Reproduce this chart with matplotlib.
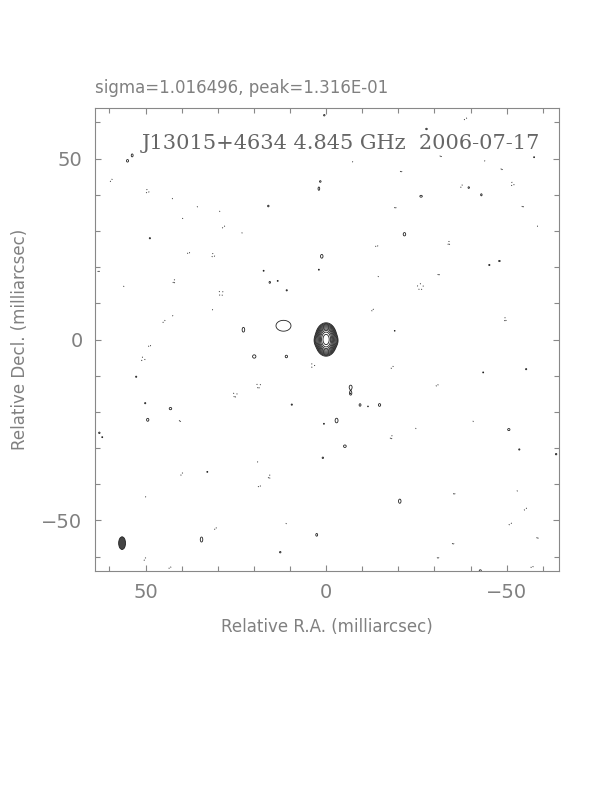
import numpy as np
import matplotlib

matplotlib.use("Agg")
import matplotlib.pyplot as plt
from matplotlib.patches import Ellipse
from matplotlib.ticker import MultipleLocator

plt.rcParams["font.family"] = "DejaVu Sans"

# map statistics (mJy)
SIGMA = 1.016496
PEAK = 131.6
TITLE = "J13015+4634 4.845 GHz  2006-07-17"
STATS = "sigma=1.016496, peak=1.316E-01"

# core: two overlapping components along Dec plus side bumps (mas, mJy)
core_ra = [0.0, 0.0, 2.7, -2.7]
core_dec = [0.9, -0.9, -0.3, -0.3]
core_flux = [80.0, 80.0, 3.5, 3.5]
core_sx = [1.1, 1.1, 0.5, 0.5]
core_sy = [1.45, 1.45, 0.9, 0.9]

# weak positive features: RA, Dec, size in RA, size in Dec (mas)
pos_ra = [55.0, 53.7, 0.5, 1.6, 2.0, 16.0, 48.8, 1.2, 2.0, 17.3, 15.6, 13.4, 10.9, 11.8, 22.9,
          -27.8, -39.5, -43.0, -26.3, -21.7, -57.6, -45.2, -48.0, -19.0,
          19.9, 11.0, 52.6, 50.1, 43.1, 49.4, 9.5, 62.8, 62.0, 0.6, 0.9, 32.9, 34.5, 2.6, 12.7,
          -6.8, -6.8, -9.4, -11.6, -14.8, -2.9, -5.2, -20.4, -43.5, -55.4, -50.6, -53.5, -63.7, -42.7]
pos_dec = [49.4, 50.9, 62.0, 43.7, 41.7, 36.9, 28.0, 23.0, 19.3, 19.0, 15.8, 16.2, 13.6, 3.8, 2.7,
           58.2, 42.0, 40.0, 39.6, 29.1, 50.4, 20.6, 21.7, 2.4,
           -4.7, -4.7, -10.3, -17.6, -19.1, -22.2, -18.0, -25.8, -27.0, -23.3, -32.7, -36.6, -55.3, -54.0, -58.8,
           -13.2, -15.0, -18.1, -18.5, -18.1, -22.4, -29.5, -44.7, -9.1, -8.2, -24.9, -30.4, -31.7, -63.9]
pos_sx = [0.5, 0.45, 0.35, 0.35, 0.4, 0.35, 0.3, 0.6, 0.25, 0.25, 0.35, 0.25, 0.3, 3.6, 0.6,
          0.4, 0.35, 0.35, 0.6, 0.6, 0.25, 0.3, 0.4, 0.2,
          0.8, 0.55, 0.3, 0.3, 0.6, 0.55, 0.3, 0.35, 0.25, 0.25, 0.35, 0.25, 0.6, 0.45, 0.35,
          0.7, 0.35, 0.45, 0.2, 0.55, 0.7, 0.65, 0.6, 0.25, 0.3, 0.55, 0.3, 0.35, 0.5]
pos_sy = [0.6, 0.7, 0.35, 0.35, 0.8, 0.4, 0.3, 0.9, 0.25, 0.25, 0.45, 0.25, 0.3, 2.6, 1.1,
          0.35, 0.4, 0.5, 0.45, 0.8, 0.25, 0.3, 0.3, 0.2,
          0.8, 0.6, 0.3, 0.3, 0.55, 0.7, 0.3, 0.35, 0.25, 0.25, 0.35, 0.25, 1.2, 0.65, 0.35,
          1.0, 0.5, 0.6, 0.2, 0.65, 1.1, 0.6, 1.0, 0.25, 0.3, 0.5, 0.3, 0.35, 0.4]

# negative features: RA, Dec, size (mas)
neg_ra = [59.5, 49.5, 42.4, 35.5, 39.6, 29.3, 28.4, 23.1, 38.1, 31.3, 63.0, 55.9, 42.1, 29.1, 31.3, 42.3, 44.9,
          -38.6, -31.8, -7.5, -20.8, -44.1, -48.7, -51.6, -37.5, -54.5, -19.2, -58.7, -14.0, -34.0, -14.6,
          -31.2, -26.1, -12.8, -49.6,
          48.9, 50.7, 3.7, 18.7, 25.2, 40.4, 40.0, 18.8, 15.7, 18.5, 49.8, 30.7, 10.9, 50.2, 43.3,
          -18.3, -30.7, -40.9, -25.0, -18.1, -35.5, -53.1, -55.2, -51.0, -58.6, -35.2, -31.0, -57.0]
neg_dec = [44.0, 41.0, 39.0, 36.8, 33.6, 35.5, 31.1, 29.5, 24.0, 23.3, 19.0, 14.8, 16.1, 12.8, 8.3, 6.6, 5.0,
           61.0, 50.8, 49.2, 46.6, 49.4, 47.2, 43.0, 42.4, 36.9, 36.6, 31.3, 25.9, 26.7, 17.5,
           18.1, 14.6, 8.2, 5.6,
           -1.7, -5.4, -7.2, -12.8, -15.3, -22.4, -37.2, -33.8, -37.9, -40.5, -43.5, -52.2, -50.8, -60.7, -63.0,
           -7.7, -12.6, -22.6, -24.5, -27.0, -42.5, -41.8, -46.9, -51.0, -54.7, -56.3, -60.2, -62.8]
neg_size = [0.6, 0.8, 0.3, 0.3, 0.3, 0.3, 0.6, 0.3, 0.5, 0.8, 0.4, 0.3, 0.7, 1.1, 0.3, 0.3, 0.6,
            0.6, 0.4, 0.3, 0.4, 0.3, 0.4, 0.8, 0.6, 0.4, 0.4, 0.3, 0.5, 0.7, 0.3,
            0.4, 1.4, 0.5, 0.7,
            0.5, 0.9, 0.9, 1.0, 1.0, 0.4, 0.6, 0.3, 0.7, 0.5, 0.3, 0.5, 0.3, 0.6, 0.5,
            0.6, 0.5, 0.3, 0.3, 0.7, 0.4, 0.3, 0.6, 0.6, 0.4, 0.4, 0.4, 0.5]

# restoring beam (mas)
beam_ra, beam_dec = 56.5, -56.3
beam_min, beam_maj = 1.9, 3.5

BLOB = 3.6  # blob amplitude in mJy, just above the lowest contour


def gauss1d(axis, c, s):
    return np.exp(-0.5 * ((axis - c) / s) ** 2)


xs = np.arange(64.0, -64.51, -0.08)
ys = np.arange(-64.0, 64.01, 0.08)
img = np.zeros((len(ys), len(xs)))

for x0, y0, f, sx, sy in zip(core_ra, core_dec, core_flux, core_sx, core_sy):
    img += f * np.outer(gauss1d(ys, y0, sy), gauss1d(xs, x0, sx))
for x0, y0, sx, sy in zip(pos_ra, pos_dec, pos_sx, pos_sy):
    img += BLOB * np.outer(gauss1d(ys, y0, sy), gauss1d(xs, x0, sx))
for x0, y0, s in zip(neg_ra, neg_dec, neg_size):
    img -= BLOB * np.outer(gauss1d(ys, y0, s), gauss1d(xs, x0, s))

base = 3 * SIGMA
pos_levels = [base * np.sqrt(2) ** k for k in range(11) if base * np.sqrt(2) ** k < img.max()]

fig = plt.figure(figsize=(6.12, 7.92), dpi=100)
ax = fig.add_axes([95 / 612, 1 - 571 / 792, 464 / 612, 463 / 792])

ax.contour(xs, ys, img, levels=pos_levels, colors="#222222", linewidths=0.6)
ax.contour(xs, ys, img, levels=[-base], colors="#333333", linewidths=0.7,
           linestyles=[(0, (1, 3))])

ax.add_patch(Ellipse((beam_ra, beam_dec), beam_min, beam_maj, facecolor="#444444",
                     edgecolor="#222222", lw=0.6))

ax.set_xlim(64, -64.5)
ax.set_ylim(-64, 64)
ax.set_aspect("auto")

gray = "#808080"
for sp in ax.spines.values():
    sp.set_color("#888888")
    sp.set_linewidth(0.8)
ax.xaxis.set_major_locator(MultipleLocator(50))
ax.xaxis.set_minor_locator(MultipleLocator(10))
ax.yaxis.set_major_locator(MultipleLocator(50))
ax.yaxis.set_minor_locator(MultipleLocator(10))
ax.tick_params(which="both", direction="in", top=True, right=True, color="#888888",
               labelcolor=gray, labelsize=14)
ax.tick_params(which="major", length=4.5, width=0.8, pad=9)
ax.tick_params(which="minor", length=3.5, width=0.8)
ax.set_xticklabels(["50" if v == 50 else "0" if v == 0 else "\u221250" if v == -50 else ""
                    for v in ax.get_xticks()])
ax.set_yticklabels(["50" if v == 50 else "0" if v == 0 else "\u221250" if v == -50 else ""
                    for v in ax.get_yticks()])

ax.set_xlabel("Relative R.A. (milliarcsec)", color=gray, fontsize=12, labelpad=11)
ax.set_ylabel("Relative Decl. (milliarcsec)", color=gray, fontsize=12, labelpad=9)

ax.text(0.531, 0.924, TITLE, transform=ax.transAxes, ha="center", va="center",
        family="DejaVu Serif", fontsize=15, color="#666666")
fig.text(95 / 612, 1 - 88 / 792, STATS, ha="left", va="center", fontsize=12, color=gray)

fig.savefig("out.png", dpi=100)
